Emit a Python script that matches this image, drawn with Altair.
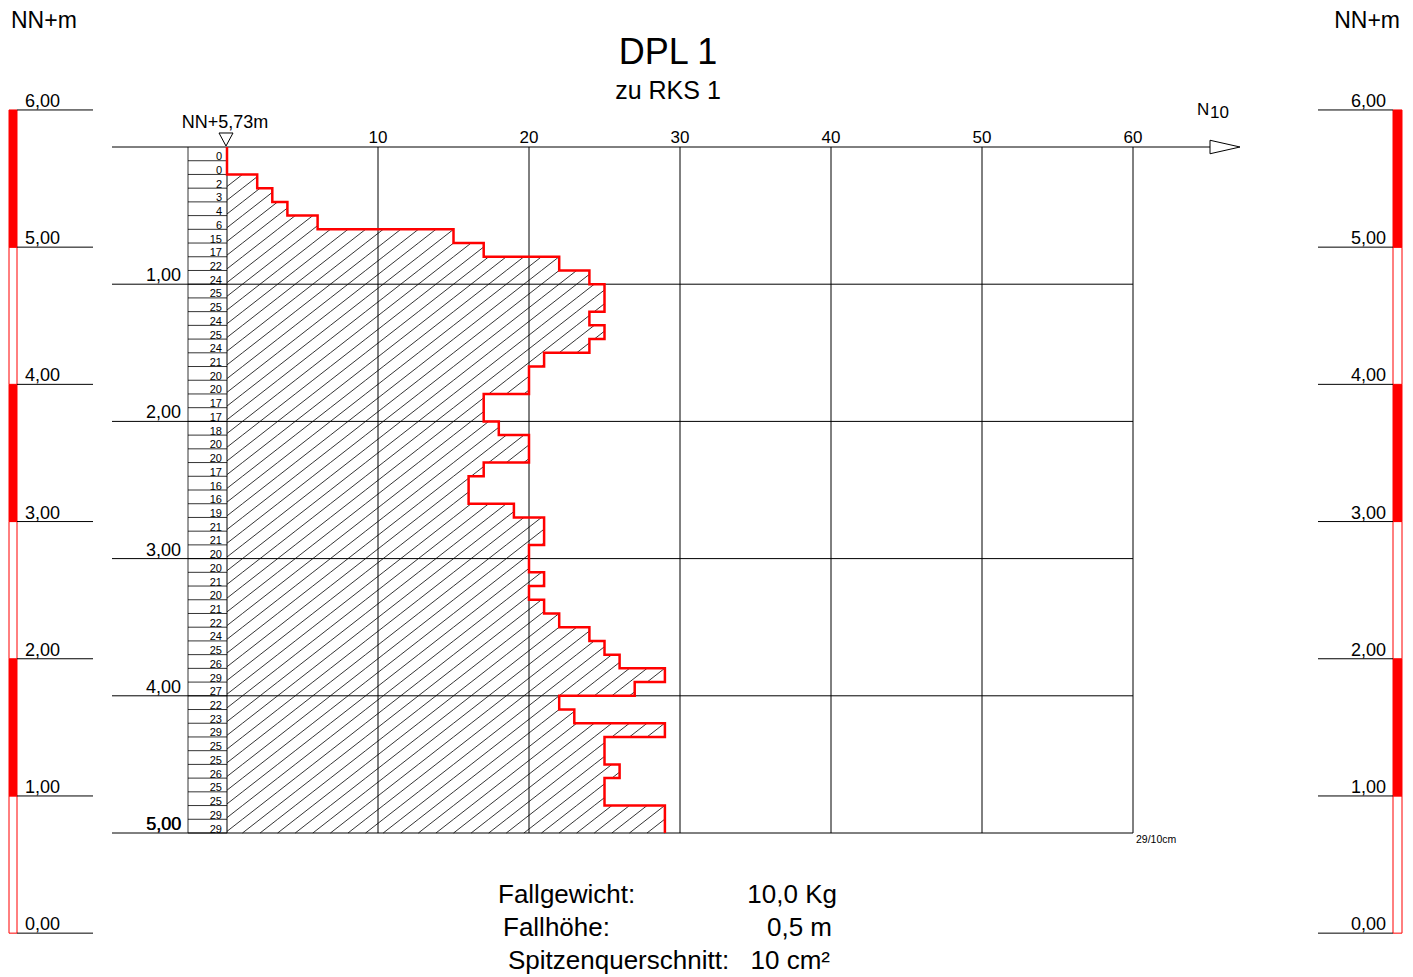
import altair as alt
import numpy as np
import pandas as pd

# ---------------- data ----------------
TITLE = "DPL 1"
SUBTITLE = "zu RKS 1"
UNIT_LABEL = "NN+m"
blows = [0, 0, 2, 3, 4, 6, 15, 17, 22, 24,
         25, 25, 24, 25, 24, 21, 20, 20, 17, 17,
         18, 20, 20, 17, 16, 16, 19, 21, 21, 20,
         20, 21, 20, 21, 22, 24, 25, 26, 29, 27,
         22, 23, 29, 25, 25, 26, 25, 25, 29, 29]
STEP = 0.1
x_ticks = [10, 20, 30, 40, 50, 60]
x_tick_labels = ["10", "20", "30", "40", "50", "60"]
depth_ticks = [0, 1, 2, 3, 4, 5]
depth_labels = ["", "1,00", "2,00", "3,00", "4,00", "5,00"]
elev_ticks = [0, 1, 2, 3, 4, 5, 6]
elev_labels = ["0,00", "1,00", "2,00", "3,00", "4,00", "5,00", "6,00"]
elev_bands_lo = [0, 1, 2, 3, 4, 5]
elev_bands_fill = ["white", "red", "white", "red", "white", "red"]
TOP_ELEV = 5.73
TOP_LABEL = "NN+5,73m"
MAX_LABEL = "29/10cm"
AXIS_LABEL = "N"
AXIS_SUB = "10"
footer_keys = ["Fallgewicht:", "Fallhöhe:", "Spitzenquerschnitt:"]
footer_vals = ["10,0 Kg", "0,5 m", "10 cm²"]

# ---------------- layout (pixels inside the plot area) ----------------
W, H = 1397, 969
PX_PER_N = 15.1
PX_PER_M = 137.2
X0_PX = 219
Y0_PX = 139
FONT = "'Liberation Sans', Arial, sans-serif"
NARROW = "'Liberation Sans Narrow', 'Liberation Sans', Arial, sans-serif"

xs = alt.Scale(domain=[-X0_PX / PX_PER_N, (W - X0_PX) / PX_PER_N], nice=False, zero=False)
ys = alt.Scale(domain=[-Y0_PX / PX_PER_M, (H - Y0_PX) / PX_PER_M], nice=False, zero=False, reverse=True)

GRID_LEFT = (104 - X0_PX) / PX_PER_N
TABLE_LEFT = (180 - X0_PX) / PX_PER_N
ARROW_END = (1202 - X0_PX) / PX_PER_N
XMAX = x_ticks[-1]
DMAX = len(blows) * STEP


def X(f):
    return alt.X(f, type="quantitative", scale=xs, axis=None)


def Y(f):
    return alt.Y(f, type="quantitative", scale=ys, axis=None)


layers = []

# ---- hatching (diagonal lines clipped to the profile) ----
HATCH_SLOPE = 0.78                    # pixel rise per pixel run
K = PX_PER_M / (PX_PER_N * HATCH_SLOPE)  # N units per metre of depth along a hatch line
HATCH_GAP = 0.1                       # vertical spacing of hatch lines at N = 0 (m)
hatch = []
for i, v in enumerate(blows):
    d0, d1 = i * STEP, (i + 1) * STEP
    if v <= 0:
        continue
    n_lo = int(np.floor(d0 / HATCH_GAP)) - 1
    n_hi = int(np.ceil((d1 + v / K) / HATCH_GAP)) + 2
    for n in range(n_lo, n_hi):
        c = K * (n * HATCH_GAP - 0.012)
        da = max(d0, (c - v) / K)
        db = min(d1, c / K)
        if db > da + 1e-9:
            hatch.append(dict(x=c - K * da, y=da, x2=c - K * db, y2=db))
hatch_df = pd.DataFrame(hatch)
layers.append(alt.Chart(hatch_df).mark_rule(color="black", strokeWidth=0.8).encode(
    x=X("x"), y=Y("y"), x2="x2", y2="y2"))

# ---- horizontal grid lines ----
hgrid = pd.DataFrame({"d": depth_ticks,
                      "x": [GRID_LEFT] * len(depth_ticks),
                      "x2": [ARROW_END if d == 0 else XMAX for d in depth_ticks]})
layers.append(alt.Chart(hgrid).mark_rule(color="black", strokeWidth=1).encode(
    x=X("x"), x2="x2", y=Y("d")))

# ---- vertical grid lines ----
vgrid = pd.DataFrame({"x": [0] + x_ticks, "d0": 0.0, "d1": DMAX})
layers.append(alt.Chart(vgrid).mark_rule(color="black", strokeWidth=1).encode(
    x=X("x"), y=Y("d0"), y2="d1"))

# ---- blow table ----
rows = pd.DataFrame({"i": list(range(len(blows))), "n": blows})
rows["d0"] = rows["i"] * STEP
rows["d1"] = rows["d0"] + STEP
rows["xl"] = TABLE_LEFT
rows["xr"] = 0.0
layers.append(alt.Chart(rows).mark_rule(color="black", strokeWidth=0.8).encode(
    x=X("xl"), x2="xr", y=Y("d1")))
layers.append(alt.Chart(pd.DataFrame({"x": [TABLE_LEFT], "a": [0.0], "b": [DMAX]})).mark_rule(
    color="black", strokeWidth=0.8).encode(x=X("x"), y=Y("a"), y2="b"))
layers.append(alt.Chart(rows).mark_text(align="right", baseline="alphabetic", fontSize=11,
                                        font=NARROW, dy=-0.5, color="black").encode(
    x=alt.value(214), y=Y("d1"), text="n:N"))

# ---- red profile ----
pts = [dict(s=0, x=0, y=0.0)]
for i, v in enumerate(blows):
    pts.append(dict(s=2 * i + 1, x=v, y=i * STEP))
    pts.append(dict(s=2 * i + 2, x=v, y=(i + 1) * STEP))
prof = pd.DataFrame(pts)
layers.append(alt.Chart(prof).mark_line(color="#ff0000", strokeWidth=2.5, strokeJoin="miter").encode(
    x=X("x"), y=Y("y"), order="s:Q"))

# ---- x tick labels ----
xt = pd.DataFrame({"x": x_ticks, "t": x_tick_labels, "d": 0.0})
layers.append(alt.Chart(xt).mark_text(align="center", baseline="alphabetic", fontSize=17,
                                      font=FONT, dy=-4, color="black").encode(
    x=X("x"), y=Y("d"), text="t:N"))

# ---- depth labels (last one drawn twice, as in the original) ----
dl = pd.DataFrame({"d": depth_ticks, "t": depth_labels})
layers.append(alt.Chart(dl).mark_text(align="right", baseline="alphabetic", fontSize=18,
                                      font=FONT, dy=-3, color="black").encode(
    x=alt.value(173), y=Y("d"), text="t:N"))
layers.append(alt.Chart(dl.tail(1)).mark_text(align="right", baseline="alphabetic", fontSize=18,
                                              font=FONT, dy=-3, dx=0.6, color="black").encode(
    x=alt.value(173), y=Y("d"), text="t:N"))

# ---- arrow & top marker ----
layers.append(alt.Chart(pd.DataFrame({"d": [0.0]})).mark_point(
    shape="M -1 -0.45 L 1 0 L -1 0.45 Z", size=900, filled=True, fill="white",
    stroke="black", strokeWidth=1, opacity=1).encode(x=alt.value(1217), y=Y("d")))
layers.append(alt.Chart(pd.DataFrame({"d": [0.0]})).mark_point(
    shape="M -1 -0.93 L 1 -0.93 L 0 0.93 Z", size=196, filled=True, fill="white",
    stroke="black", strokeWidth=1, opacity=1).encode(x=alt.value(218), y=Y("d"), yOffset=alt.value(-7.5)))

# ---- elevation scales (left and right) ----
bands = pd.DataFrame({"lo": elev_bands_lo, "f": elev_bands_fill})
bands["dtop"] = TOP_ELEV - (bands["lo"] + 1)
bands["dbot"] = TOP_ELEV - bands["lo"]
et = pd.DataFrame({"e": elev_ticks, "t": elev_labels})
et["d"] = TOP_ELEV - et["e"]
for bx0, bx1, lx0, lx1, tx, al in [(1, 9, 9, 85, 17, "left"), (1385, 1394, 1310, 1385, 1378, "right")]:
    layers.append(alt.Chart(bands).mark_rect(stroke="#ff0000", strokeWidth=1).encode(
        x=alt.value(bx0), x2=alt.value(bx1), y=Y("dtop"), y2="dbot",
        fill=alt.Fill("f:N", scale=None)))
    layers.append(alt.Chart(et).mark_rule(color="black", strokeWidth=1).encode(
        x=alt.value(lx0), x2=alt.value(lx1), y=Y("d")))
    layers.append(alt.Chart(et).mark_text(align=al, baseline="alphabetic", fontSize=18,
                                          font=FONT, dy=-3, color="black").encode(
        x=alt.value(tx), y=Y("d"), text="t:N"))


# ---- free texts ----
def txt(t, x, y, size, align="left", font=FONT):
    return alt.Chart(pd.DataFrame({"t": [t]})).mark_text(
        align=align, baseline="alphabetic", fontSize=size, font=font, color="black").encode(
        x=alt.value(x), y=alt.value(y), text="t:N")


layers += [
    txt(UNIT_LABEL, 3, 20, 23),
    txt(UNIT_LABEL, 1392, 20, 23, "right"),
    txt(TITLE, 660, 56, 36, "center"),
    txt(SUBTITLE, 660, 91, 25, "center"),
    txt(TOP_LABEL, 217, 120, 18, "center"),
    txt(AXIS_LABEL, 1189, 107, 17),
    txt(AXIS_SUB, 1202, 110, 17),
    txt(MAX_LABEL, 1128, 835, 10.5),
]
for k, (a, b) in enumerate(zip(footer_keys, footer_vals)):
    yb = [895, 928, 961][k]
    xl = [490, 495, 500][k]
    xr = [829, 824, 822][k]
    layers.append(txt(a, xl, yb, 26))
    layers.append(txt(b, xr, yb, 26, "right"))

chart = alt.layer(*layers).properties(
    width=W, height=H, padding=0, autosize="none"
).configure_view(stroke=None)

chart.save("out.html", embed_options={"renderer": "svg", "actions": False})
